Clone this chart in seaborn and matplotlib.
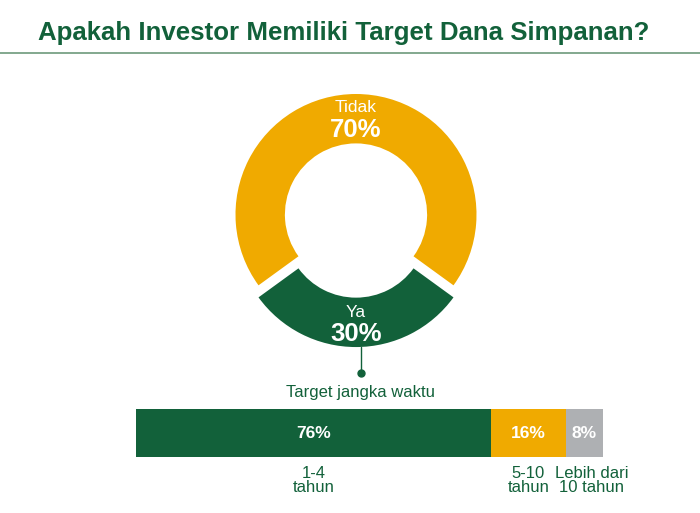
import matplotlib
matplotlib.use("Agg")
import matplotlib.pyplot as plt
import numpy as np
import seaborn as sns

# donut: do investors have a savings target?
answer_labels = ["Tidak", "Ya"]
answer_pct = [70, 30]

# horizontal stacked bar: target time horizon
horizon_labels = ["1-4\ntahun", "5-10\ntahun", "Lebih dari\n10 tahun"]
horizon_pct = [76, 16, 8]

title = "Apakah Investor Memiliki Target Dana Simpanan?"
bar_caption = "Target jangka waktu"

GREEN = "#12613a"
ORANGE = "#f0aa00"
GREY = "#aeb0b3"
W, H = 700, 513

sns.set_theme(style="white")
plt.rcParams["font.family"] = ["Liberation Sans", "DejaVu Sans"]

fig = plt.figure(figsize=(W / 100, H / 100), dpi=100)

# title + rule
fig.text(344 / W, 1 - 33 / H, title, ha="center", va="center", fontsize=18.6,
         fontweight="bold", color=GREEN)
fig.add_artist(plt.Line2D([0, 1], [1 - 53 / H, 1 - 53 / H], color="#6d9a7b", lw=1.2))

# donut
cx, cy, R = 356, 214.5, 120.5
ax_pie = fig.add_axes([(cx - R) / W, 1 - (cy + R) / H, 2 * R / W, 2 * R / H])
explode = [0, 0.1]
wedges, _ = ax_pie.pie(answer_pct, colors=[ORANGE, GREEN], startangle=-36,
                       counterclock=True, explode=explode, radius=1,
                       wedgeprops=dict(width=0.41, linewidth=0))
ax_pie.set_xlim(-1, 1)
ax_pie.set_ylim(-1, 1)
ax_pie.set_aspect("equal")
ax_pie.axis("off")

for w, lab, pct, ex in zip(wedges, answer_labels, answer_pct, explode):
    ang = np.deg2rad((w.theta1 + w.theta2) / 2)
    r = 0.80 + ex
    x, y = r * np.cos(ang), r * np.sin(ang)
    ax_pie.text(x, y + 0.09, lab, ha="center", va="center", color="white", fontsize=12.5)
    ax_pie.text(x, y - 0.095, f"{pct}%", ha="center", va="center", color="white",
                fontsize=18.5, fontweight="bold")

# connector from the "Ya" wedge to the bar caption
ax_pie.plot([0.04, 0.04], [-1.1, -1.315], color=GREEN, lw=1, clip_on=False)
ax_pie.plot([0.04], [-1.315], "o", color=GREEN, ms=5, clip_on=False)
fig.text(361 / W, 1 - 392 / H, bar_caption, ha="center", va="center",
         fontsize=12, color=GREEN)

# stacked bar (drawn as overlapping cumulative bars)
bx0, bx1, by0, by1 = 136, 603, 409, 457
ax_bar = fig.add_axes([bx0 / W, 1 - by1 / H, (bx1 - bx0) / W, (by1 - by0) / H])
cum = np.cumsum(horizon_pct)
colors = [GREEN, ORANGE, GREY]
for c, col in list(zip(cum, colors))[::-1]:
    sns.barplot(x=[c], y=["t"], orient="h", color=col, saturation=1, width=1,
                linewidth=0, ax=ax_bar)
ax_bar.set_xlim(0, cum[-1])
ax_bar.set_ylim(0.5, -0.5)
ax_bar.axis("off")

starts = cum - np.array(horizon_pct)
for i, (s, p, lab) in enumerate(zip(starts, horizon_pct, horizon_labels)):
    mid = s + p / 2
    ax_bar.text(mid, 0, f"{p}%", ha="center", va="center", color="white",
                fontsize=12.5, fontweight="bold")
    # last label nudged right so it doesn't run into its neighbour
    lx = mid + 1.5 if i == len(horizon_pct) - 1 else mid
    ax_bar.text(lx, 0.68, lab, ha="center", va="top", color=GREEN,
                fontsize=12, linespacing=0.95)

fig.savefig("out.png", dpi=100, facecolor="white")
